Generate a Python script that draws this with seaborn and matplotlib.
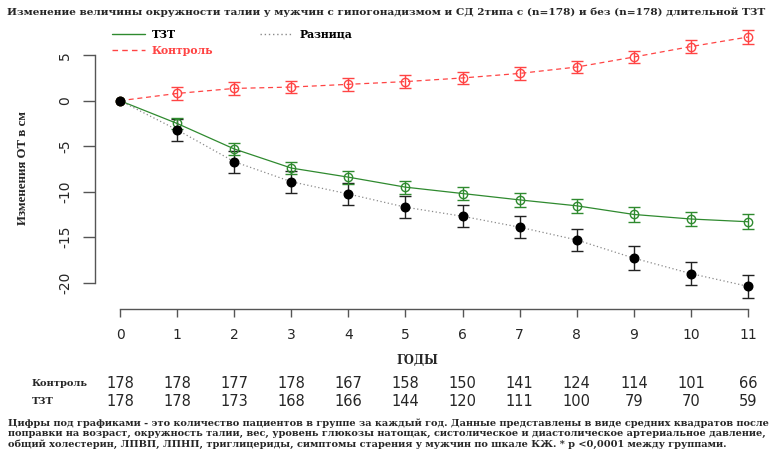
import numpy as np
import pandas as pd
import matplotlib
matplotlib.use("Agg")
import matplotlib.pyplot as plt
from matplotlib.lines import Line2D
import seaborn as sns

# ---- data -------------------------------------------------------------
years = list(range(12))
tzt_mean = [0, -2.5, -5.3, -7.4, -8.4, -9.5, -10.2, -10.9, -11.55, -12.5, -13.0, -13.3]
tzt_err = [0, 0.6, 0.7, 0.7, 0.7, 0.7, 0.7, 0.75, 0.75, 0.8, 0.8, 0.85]
control_mean = [0, 0.8, 1.35, 1.5, 1.8, 2.1, 2.5, 3.0, 3.7, 4.8, 5.95, 7.0]
control_err = [0, 0.75, 0.7, 0.7, 0.7, 0.7, 0.65, 0.7, 0.7, 0.7, 0.7, 0.75]
diff_mean = [0, -3.2, -6.7, -8.9, -10.25, -11.7, -12.7, -13.9, -15.3, -17.3, -19.0, -20.4]
diff_err = [0, 1.2, 1.2, 1.2, 1.2, 1.2, 1.2, 1.2, 1.25, 1.3, 1.3, 1.3]

n_control = [178, 178, 177, 178, 167, 158, 150, 141, 124, 114, 101, 66]
n_tzt = [178, 178, 173, 168, 166, 144, 120, 111, 100, 79, 70, 59]

title = ("Изменение величины окружности талии у мужчин с гипогонадизмом и СД 2типа "
         "с (n=178) и без (n=178) длительной ТЗТ")
footnote = [
    "Цифры под графиками - это количество пациентов в группе за каждый год. "
    "Данные представлены в виде средних квадратов после",
    "поправки на возраст, окружность талии, вес, уровень глюкозы натощак, "
    "систолическое и диастолическое артериальное давление,",
    "общий холестерин, ЛПВП, ЛПНП, триглицериды, симптомы старения у мужчин "
    "по шкале КЖ. * p <0,0001 между группами.",
]

# ---- style ------------------------------------------------------------
sns.set_style("ticks")
plt.rcParams["font.family"] = ["DejaVu Sans"]
plt.rcParams["axes.unicode_minus"] = False

W, H = 771, 457
fig = plt.figure(figsize=(W / 100, H / 100), dpi=100)


def fx(x):
    return x / W


def fy(y):
    return 1 - y / H


ax = fig.add_axes([fx(95), fy(309), fx(771) - fx(95), fy(20) - fy(309)])

RED = "#ff4444"
GREEN = "#2f8a2f"
GRAY = "#8a8a8a"
BLACK = "#000000"
SERIF = "DejaVu Serif"
NARROW_SERIF = "Liberation Serif"

df = pd.DataFrame({
    "year": years * 3,
    "value": tzt_mean + control_mean + diff_mean,
    "group": ["ТЗТ"] * 12 + ["Контроль"] * 12 + ["Разница"] * 12,
})

sns.lineplot(
    data=df, x="year", y="value", hue="group", style="group",
    palette={"ТЗТ": GREEN, "Контроль": RED, "Разница": GRAY},
    dashes={"ТЗТ": "", "Контроль": (4, 3), "Разница": (1, 2)},
    linewidth=0.9, legend=False, ax=ax, zorder=2,
)

# error bars and point markers
ax.errorbar(years[1:], diff_mean[1:], yerr=diff_err[1:], fmt="none",
            ecolor="#222222", elinewidth=1.0, capsize=4.3, capthick=1.0, zorder=3)
ax.errorbar(years[1:], tzt_mean[1:], yerr=tzt_err[1:], fmt="none",
            ecolor=GREEN, elinewidth=1.0, capsize=4.3, capthick=1.0, zorder=3)
ax.errorbar(years[1:], control_mean[1:], yerr=control_err[1:], fmt="none",
            ecolor=RED, elinewidth=1.0, capsize=4.3, capthick=1.0, zorder=3)

ax.plot(years, control_mean, "o", ms=6, mfc="none", mec=RED, mew=1.0, zorder=4)
ax.plot(years, tzt_mean, "o", ms=6, mfc="none", mec=GREEN, mew=1.0, zorder=4)
ax.plot(years, diff_mean, "o", ms=6.2, mfc=BLACK, mec=BLACK, zorder=5)

# axes in the classic detached style
ax.set_xlim(-0.438, 11.403)
ax.set_ylim(-22.89, 8.87)
ax.set_xticks(years)
ax.set_yticks([-20, -15, -10, -5, 0, 5])
ax.spines["top"].set_visible(False)
ax.spines["right"].set_visible(False)
ax.spines["left"].set_bounds(-20, 5)
ax.spines["bottom"].set_bounds(0, 11)
for s in ("left", "bottom"):
    ax.spines[s].set_color("#555555")
    ax.spines[s].set_linewidth(1.0)
ax.tick_params(axis="x", bottom=True, direction="out", length=6, width=1.0,
               color="#555555", pad=7.5, labelsize=10)
ax.tick_params(axis="y", left=True, direction="out", length=8.5, width=1.0,
               color="#555555", pad=8, labelsize=10)
for lab in ax.get_yticklabels():
    lab.set_rotation(90)
    lab.set_va("center")
ax.set_xlabel("")
ax.set_ylabel("")
ax.set_facecolor("white")

# axis titles
fig.text(fx(23), fy(168), "Изменения ОТ в см", rotation=90, ha="center", va="center",
         family=NARROW_SERIF, weight="bold", fontsize=9.3)
fig.text(fx(417), fy(360), "ГОДЫ", ha="center", va="center",
         family=SERIF, weight="bold", fontsize=8.3)

# title
fig.text(fx(386), fy(12), title, ha="center", va="center",
         family=SERIF, weight="bold", fontsize=7.55)

# legend
def legend_entry(x0, x1, y, color, dashes, label, tcolor):
    ln = Line2D([fx(x0), fx(x1)], [fy(y), fy(y)], transform=fig.transFigure,
                color=color, linewidth=1.0)
    if dashes:
        ln.set_dashes(dashes)
    fig.add_artist(ln)
    fig.text(fx(x1 + 7), fy(y), label, ha="left", va="center", color=tcolor,
             family=SERIF, weight="bold", fontsize=7.8)


legend_entry(112, 145, 34, GREEN, None, "ТЗТ", BLACK)
legend_entry(112, 145, 50, RED, (4, 3), "Контроль", RED)
legend_entry(260, 293, 34, GRAY, (1, 2), "Разница", BLACK)

# number-at-risk table
fig.text(fx(32), fy(384), "Контроль", ha="left", va="center",
         family=SERIF, weight="bold", fontsize=7.1)
fig.text(fx(32), fy(401), "ТЗТ", ha="left", va="center",
         family=SERIF, weight="bold", fontsize=7.1)
for yr, nc, nt in zip(years, n_control, n_tzt):
    xp = ax.transData.transform((yr, 0))[0]
    xf = fig.transFigure.inverted().transform((xp, 0))[0]
    fig.text(xf, fy(384), str(nc), ha="center", va="center", fontsize=10.5)
    fig.text(xf, fy(401), str(nt), ha="center", va="center", fontsize=10.5)

# footnote
for i, line in enumerate(footnote):
    fig.text(fx(8), fy(423 + 10.5 * i), line, ha="left", va="center",
             family=SERIF, weight="bold", fontsize=7.05)

fig.savefig("out.png", dpi=100, facecolor="white")
